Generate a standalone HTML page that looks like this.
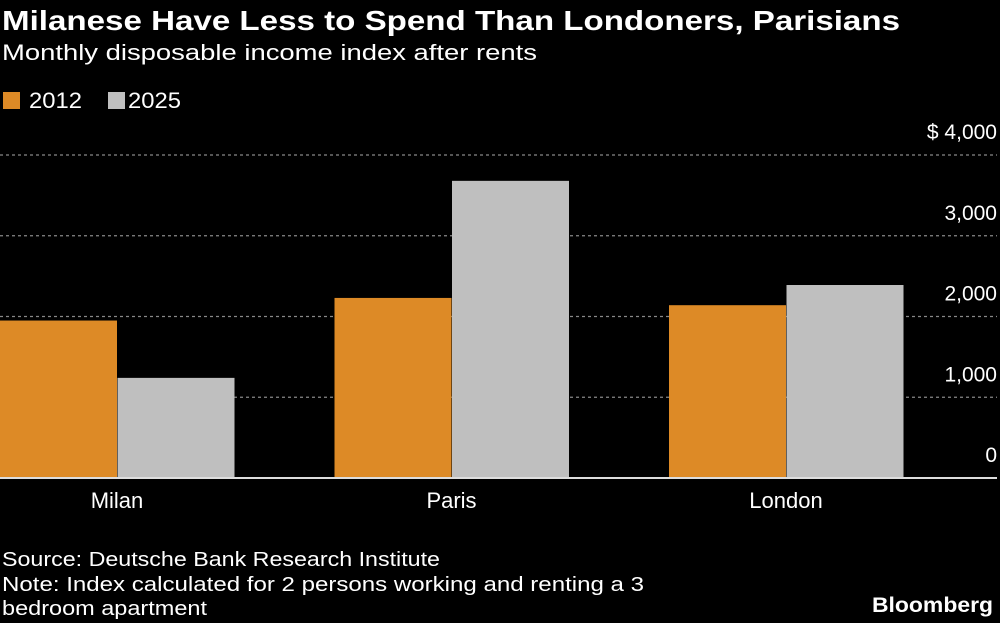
<!DOCTYPE html>
<html><head><meta charset="utf-8"><style>
html,body{margin:0;padding:0;background:#000;}
svg{display:block;font-family:"Liberation Sans",sans-serif;}
</style></head><body>
<svg id="chart" width="1000" height="623" viewBox="0 0 1000 623">
<rect width="1000" height="623" fill="#000"/>
<text x="2" y="30" fill="#fff" font-size="28" font-weight="bold" textLength="898" lengthAdjust="spacingAndGlyphs">Milanese Have Less to Spend Than Londoners, Parisians</text>
<text x="2" y="60" fill="#fff" font-size="22" textLength="535" lengthAdjust="spacingAndGlyphs">Monthly disposable income index after rents</text>
<g>
<g><rect x="3" y="92" width="17" height="17" fill="#dd8a26"/><text x="29" y="108" fill="#fff" font-size="22" textLength="53" lengthAdjust="spacingAndGlyphs">2012</text></g>
<g><rect x="108" y="92" width="17" height="17" fill="#bfbfbf"/><text x="128" y="108" fill="#fff" font-size="22" textLength="53" lengthAdjust="spacingAndGlyphs">2025</text></g>
</g>
<g id="grid"></g>
<g id="bars"></g>
<g id="axis"></g>
<text x="2" y="566" fill="#fff" font-size="20" textLength="438" lengthAdjust="spacingAndGlyphs">Source: Deutsche Bank Research Institute</text>
<text x="2" y="591" fill="#fff" font-size="20" textLength="642" lengthAdjust="spacingAndGlyphs">Note: Index calculated for 2 persons working and renting a 3</text>
<text x="2" y="615" fill="#fff" font-size="20" textLength="205" lengthAdjust="spacingAndGlyphs">bedroom apartment</text>
<text x="993" y="612" fill="#fff" font-size="21" font-weight="bold" text-anchor="end" textLength="121" lengthAdjust="spacingAndGlyphs">Bloomberg</text>
</svg>
<script>
const categories = ["Milan", "Paris", "London"];
const values2012 = [1950, 2230, 2140];
const values2025 = [1240, 3680, 2390];
const tickValues = [0, 1000, 2000, 3000, 4000];
const tickLabels = ["0", "1,000", "2,000", "3,000", "$ 4,000"];

const NS = "http://www.w3.org/2000/svg";
const y0 = 478, pxPer = 80.75 / 1000;
function yScale(v){ return y0 - v * pxPer; }
const groupStart = 0, groupStep = 334.5, barW = 117;
function xScale(i){ return groupStart + i * groupStep; }
function mk(tag, attrs, parent){
  const e = document.createElementNS(NS, tag);
  for (const k in attrs) e.setAttribute(k, attrs[k]);
  parent.appendChild(e);
  return e;
}
const grid = document.getElementById("grid");
const bars = document.getElementById("bars");
const axis = document.getElementById("axis");
tickValues.forEach((v, i) => {
  const y = yScale(v);
  if (v !== 0) {
    const l = mk("line", {x1: 0, x2: 997, y1: y, y2: y, stroke: "#888", "stroke-width": 1.3, "stroke-dasharray": "3,3"}, grid);
    
    
  }
  const t = mk("text", {x: 997, y: y - 16, fill: "#fff", "font-size": 21, "text-anchor": "end"}, axis);
  t.textContent = tickLabels[i];
  
  
});
categories.forEach((c, i) => {
  const x = xScale(i);
  const b1 = mk("rect", {x: x, y: yScale(values2012[i]), width: barW, height: y0 - yScale(values2012[i]), fill: "#dd8a26"}, bars);
  
  
  const b2 = mk("rect", {x: x + barW + 0.5, y: yScale(values2025[i]), width: barW, height: y0 - yScale(values2025[i]), fill: "#bfbfbf"}, bars);
  
  
  const t = mk("text", {x: x + barW, y: 508, fill: "#fff", "font-size": 22, "text-anchor": "middle"}, axis);
  t.textContent = c;
  
  
});
const base = mk("line", {x1: 0, x2: 997, y1: y0, y2: y0, stroke: "#ddd", "stroke-width": 2}, axis);


</script>
</body></html>
